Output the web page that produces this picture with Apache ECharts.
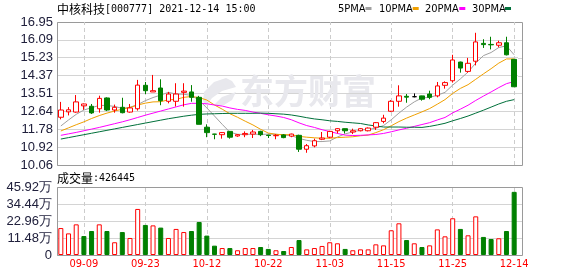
<!DOCTYPE html>
<html><head><meta charset="utf-8">
<script src="https://cdn.jsdelivr.net/npm/echarts@6/dist/echarts.min.js"></script>
<style>html,body{margin:0;padding:0;background:#fff}#c{width:578px;height:276px}</style>
</head><body><div id="c"></div>
<script>
const dates = ['09-06','09-07','09-08','09-09','09-10','09-13','09-14','09-15','09-16','09-17',
  '09-22','09-23','09-24','09-27','09-28','09-29','09-30','10-08','10-11','10-12',
  '10-13','10-14','10-15','10-18','10-19','10-20','10-21','10-22','10-25','10-26',
  '10-27','10-28','10-29','11-01','11-02','11-03','11-04','11-05','11-08','11-09',
  '11-10','11-11','11-12','11-15','11-16','11-17','11-18','11-19','11-22','11-23',
  '11-24','11-25','11-26','11-29','11-30','12-01','12-02','12-03','12-13','12-14'];
const openP = [12.36,12.62,12.61,12.91,12.89,12.77,13.29,12.71,12.84,12.61,
  12.77,13.90,13.58,13.77,13.13,13.13,13.56,13.58,13.32,11.88,
  11.55,11.52,11.68,11.46,11.52,11.55,11.68,11.50,11.47,11.51,
  11.45,11.49,10.82,10.98,11.30,11.40,11.71,11.81,11.65,11.71,
  11.71,11.88,12.16,12.65,13.13,13.37,13.35,13.39,13.48,13.39,
  13.90,14.12,15.02,14.57,15.06,15.92,15.87,15.83,15.95,15.15];
const closeP = [12.71,12.72,13.10,13.00,12.57,13.27,12.71,12.84,12.58,12.81,
  13.91,13.64,13.64,13.16,13.48,13.48,13.62,13.32,12.02,11.62,
  11.54,11.62,11.40,11.52,11.58,11.65,11.52,11.48,11.49,11.38,
  11.55,10.82,10.99,11.23,11.36,11.68,11.81,11.71,11.71,11.81,
  11.84,12.10,12.32,13.13,13.39,13.33,13.35,13.23,13.32,13.87,
  14.03,15.12,14.73,14.96,15.99,15.86,15.85,15.95,15.37,13.83];
const lowP = [12.26,12.45,12.58,12.72,12.52,12.58,12.66,12.58,12.55,12.58,
  12.68,13.48,13.58,12.94,13.03,12.88,12.87,13.11,12.02,11.40,
  11.30,11.33,11.33,11.42,11.40,11.36,11.45,11.36,11.30,11.35,
  11.40,10.69,10.65,10.91,11.26,11.35,11.58,11.58,11.55,11.68,
  11.68,11.75,12.07,12.61,12.87,13.06,13.32,13.16,13.23,13.32,
  13.74,14.03,14.51,14.51,14.86,15.70,15.63,15.73,15.34,13.82];
const highP = [13.10,12.85,13.43,13.02,13.00,13.40,13.32,12.97,13.30,13.00,
  14.16,14.06,14.40,14.19,13.58,14.00,14.00,13.91,13.39,12.02,
  11.56,11.65,11.70,11.55,11.68,11.75,11.71,11.51,11.55,11.55,
  11.57,11.52,11.07,11.33,11.65,11.71,11.84,11.82,11.81,11.84,
  11.87,12.13,12.48,13.19,13.90,13.48,13.51,13.40,13.64,14.06,
  14.09,15.37,15.04,15.22,16.43,16.12,16.24,16.05,16.24,15.16];
const prevClose = 12.02;
const volume = [18.2,14.6,20.7,12.8,16.2,20.7,16.2,8.6,15.5,11.5,
  31.1,20.3,20.0,18.5,11.5,17.6,15.5,16.2,22.3,13.1,
  6.3,4.7,4.7,3.2,4.7,4.7,5.4,4.1,3.2,2.7,
  5.4,10.1,3.8,4.7,6.1,8.6,7.9,4.1,3.2,3.8,
  3.8,7.2,6.5,16.7,21.4,10.1,7.9,5.4,6.5,17.3,
  12.6,24.8,17.6,13.3,26.1,12.2,10.8,11.3,16.2,42.6445];
const ma5 = [11.94,12.23,12.50,12.71,12.82,12.93,12.93,12.88,12.79,12.84,
  12.97,13.16,13.31,13.43,13.56,13.48,13.47,13.41,13.18,12.81,
  12.42,12.02,11.64,11.54,11.53,11.55,11.53,11.55,11.54,11.50,
  11.48,11.34,11.25,11.19,11.19,11.22,11.41,11.56,11.65,11.74,
  11.78,11.83,11.96,12.24,12.56,12.85,13.10,13.29,13.32,13.42,
  13.56,13.91,14.21,14.54,14.97,15.33,15.48,15.72,15.80,15.37];
const ma10 = [11.70,11.85,12.00,12.14,12.30,12.44,12.56,12.66,12.75,12.83,
  12.95,13.04,13.10,13.11,13.20,13.22,13.32,13.36,13.31,13.19,
  12.95,12.75,12.53,12.36,12.17,11.99,11.78,11.60,11.54,11.52,
  11.52,11.44,11.40,11.37,11.35,11.35,11.38,11.40,11.42,11.47,
  11.50,11.62,11.76,11.95,12.15,12.32,12.47,12.62,12.78,12.99,
  13.21,13.51,13.75,13.93,14.19,14.45,14.70,14.97,15.17,15.17];
const ma20 = [11.49,11.56,11.63,11.71,11.79,11.87,11.96,12.05,12.14,12.24,
  12.35,12.46,12.56,12.66,12.76,12.86,12.96,13.03,13.03,13.01,
  12.95,12.90,12.81,12.74,12.69,12.61,12.55,12.48,12.42,12.35,
  12.24,12.09,11.96,11.87,11.76,11.67,11.58,11.50,11.48,11.49,
  11.51,11.53,11.58,11.66,11.75,11.83,11.92,12.01,12.10,12.23,
  12.35,12.57,12.75,12.94,13.17,13.38,13.58,13.79,13.98,14.08];
const ma30 = [11.31,11.38,11.45,11.52,11.59,11.66,11.73,11.80,11.87,11.94,
  12.01,12.08,12.15,12.22,12.29,12.35,12.41,12.46,12.50,12.52,
  12.53,12.54,12.55,12.55,12.55,12.55,12.56,12.55,12.53,12.51,
  12.47,12.41,12.34,12.28,12.24,12.19,12.16,12.12,12.09,12.06,
  11.99,11.94,11.89,11.89,11.89,11.88,11.88,11.87,11.92,11.99,
  12.07,12.19,12.30,12.42,12.56,12.70,12.85,13.00,13.13,13.21];
const priceTicks = [10.06,10.92,11.78,12.64,13.51,14.37,15.23,16.09,16.95];
const volumeTicks = [0,11.48,22.96,34.44,45.92];
const maNames = ['5PMA','10PMA','20PMA','30PMA'];
const maColors = ['#a0a0a0','#f0a000','#ff00ff','#00703a'];
const maData = [ma5, ma10, ma20, ma30];
const titleName = '中核科技';
const titleRest = '[000777] 2021-12-14 15:00';
const volumeLabel = '成交量';
const volumeLast = ':426445';

const UP = '#ff0000', DOWN = '#008000';
const labelIdx = dates.map((d,i)=>i).filter(i => i % 8 === 3);

const candleData = dates.map((d,i) => {
  const item = {value:[openP[i], closeP[i], lowP[i], highP[i]]};
  if (openP[i] === closeP[i]) item.itemStyle = {color:'#000', color0:'#000', borderColor:'#000', borderColor0:'#000'};
  return item;
});
const volData = volume.map((v,i) => {
  const pc = i === 0 ? prevClose : closeP[i-1];
  const up = closeP[i] >= pc;
  return {value:v, itemStyle: up ? {color:'#fff', borderColor:UP, borderWidth:1} : {color:DOWN, borderColor:DOWN, borderWidth:1}};
});
const vMark = () => ({
  silent:true, symbol:['none','none'], label:{show:false}, animation:false, z:1,
  lineStyle:{color:'#cccccc', type:[4,3], width:1},
  data: labelIdx.map(i => ({xAxis: dates[i]}))
});

const GL = 57, GW = 461, BR = 522;
const chart = echarts.init(document.getElementById('c'));

function baseGraphics(extra) {
  const g = [
    {type:'rect', z:0, silent:true, shape:{x:GL+0.5, y:22.5, width:BR-GL, height:143}, style:{fill:'none', stroke:'#9a9a9a', lineWidth:1}},
    {type:'rect', z:0, silent:true, shape:{x:GL+0.5, y:187.5, width:BR-GL, height:68}, style:{fill:'none', stroke:'#9a9a9a', lineWidth:1}},
    {type:'text', z:1, silent:true, x:240, y:91, style:{text:'东方财富', fontSize:34, fontWeight:'bold', fontFamily:'Noto Sans CJK SC', fill:'#e8e8ed', verticalAlign:'middle'}},
    {type:'polygon', z:1, silent:true, shape:{points:[[226,78],[214,82],[204,92],[203,101],[206,106],[212,98],[222,91],[236,87],[232,81]]}, style:{fill:'#e8e8ed'}},
    {type:'polygon', z:1, silent:true, shape:{points:[[214,105],[222,97],[236,92],[232,100],[224,105]]}, style:{fill:'#e8e8ed'}},
    {type:'text', silent:true, x:GL, y:9, style:{text:'{a|'+titleName+'}{b|'+titleRest+'}', verticalAlign:'middle',
      rich:{a:{fontSize:12, fontFamily:'Noto Sans CJK SC', fill:'#000'}, b:{fontSize:10, fontFamily:'DejaVu Sans Mono', fill:'#000'}}}},
    {type:'text', silent:true, x:GL, y:178, style:{text:'{a|'+volumeLabel+'}{b|'+volumeLast+'}', verticalAlign:'middle',
      rich:{a:{fontSize:12, fontFamily:'Noto Sans CJK SC', fill:'#000'}, b:{fontSize:10, fontFamily:'DejaVu Sans Mono', fill:'#000'}}}}
  ];
  const legX = [338, 379, 425, 472];
  const legR = [365.5, 412.7, 459.3, 505];
  maNames.forEach((n,k) => {
    g.push({type:'text', silent:true, x:legX[k], y:9, style:{text:n, fontSize:11, fontFamily:'Liberation Sans Narrow, DejaVu Sans Condensed, Arial Narrow, sans-serif', fill:'#000', verticalAlign:'middle'}});
    g.push({type:'rect', silent:true, shape:{x:legR[k], y:7, width:6, height:3}, style:{fill:maColors[k]}});
  });
  return g.concat(extra || []);
}

const option = {
  animation:false,
  backgroundColor:'#fff',
  grid:[
    {left:GL, top:22, width:GW, height:143},
    {left:GL, top:187, width:GW, height:68}
  ],
  xAxis:[
    {type:'category', gridIndex:0, data:dates, boundaryGap:true,
     axisLine:{show:false}, axisTick:{show:false}, axisLabel:{show:false}, splitLine:{show:false}},
    {type:'category', gridIndex:1, data:dates, boundaryGap:true,
     axisLine:{show:false}, axisTick:{show:false}, splitLine:{show:false},
     axisLabel:{show:true, interval:(i) => i % 8 === 3, color:'#ff0000', fontSize:11, margin:4,
       fontFamily:'Liberation Sans Narrow, DejaVu Sans Condensed, Arial Narrow, sans-serif'}}
  ],
  yAxis:[
    {type:'value', gridIndex:0, min:priceTicks[0], max:priceTicks[priceTicks.length-1],
     axisLine:{show:false}, axisTick:{show:false, customValues:priceTicks},
     axisLabel:{customValues:priceTicks, formatter:(v)=>v.toFixed(2), color:'#20203c', fontSize:13, margin:4, fontFamily:'Liberation Sans, Arial, sans-serif'},
     splitLine:{show:true, lineStyle:{color:'#d4d4d4', width:1}}},
    {type:'value', gridIndex:1, min:0, max:volumeTicks[volumeTicks.length-1], interval:volumeTicks[1],
     axisLine:{show:false}, axisTick:{show:false},
     axisLabel:{formatter:(v)=> v === 0 ? '0' : v.toFixed(2)+'万', color:'#20203c', fontSize:13, margin:5, fontFamily:'Liberation Sans, Arial, sans-serif'},
     splitLine:{show:true, lineStyle:{color:'#d4d4d4', width:1}}}
  ],
  series:[
    {type:'candlestick', name:'K', xAxisIndex:0, yAxisIndex:0, data:candleData, barWidth:5, z:3,
     itemStyle:{color:'#ffffff', color0:DOWN, borderColor:UP, borderColor0:DOWN, borderWidth:1},
     markLine:vMark()},
    ...maNames.map((n,k) => ({type:'line', name:n, xAxisIndex:0, yAxisIndex:0, data:maData[k], symbol:'none', smooth:false, z:3,
      lineStyle:{color:maColors[k], width:1}, itemStyle:{color:maColors[k]}, silent:true})),
    {type:'bar', name:'成交量', xAxisIndex:1, yAxisIndex:1, data:volData, barWidth:5, silent:true, z:3,
     markLine:vMark()}
  ]
};
chart.setOption(option);

const ext = [];
priceTicks.slice(1, -1).forEach(v => {
  const y = Math.round(chart.convertToPixel({yAxisIndex:0}, v)) + 0.5;
  ext.push({type:'line', silent:true, shape:{x1:GL+GW, y1:y, x2:BR, y2:y}, style:{stroke:'#d4d4d4', lineWidth:1}});
});
volumeTicks.slice(1, -1).forEach(v => {
  const y = Math.round(chart.convertToPixel({yAxisIndex:1}, v)) + 0.5;
  ext.push({type:'line', silent:true, shape:{x1:GL+GW, y1:y, x2:BR, y2:y}, style:{stroke:'#d4d4d4', lineWidth:1}});
});
chart.setOption({graphic: baseGraphics(ext)});
</script></body></html>
